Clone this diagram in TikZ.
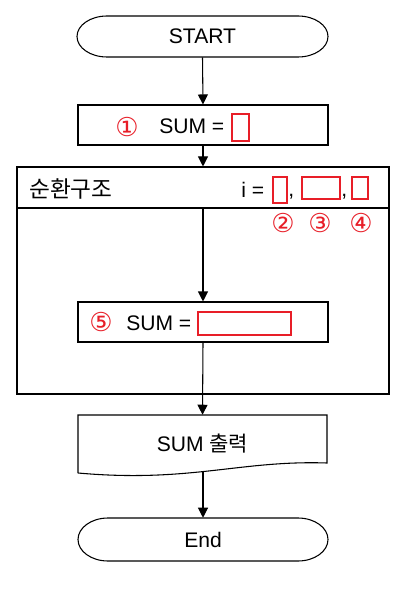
\documentclass[tikz,border=0pt]{standalone}
\usepackage{fontspec}
\setmainfont{Liberation Sans}
\newfontfamily\krfont{Noto Sans CJK KR}
\newfontfamily\symfont{DejaVu Sans}
\usetikzlibrary{arrows.meta}
\definecolor{qred}{RGB}{232,30,40}
\tikzset{
  every node/.style={font=\fontsize{15.8}{18}\selectfont},
  flow/.style={draw=black, line width=0.8pt},
  arr/.style={draw=black, line width=0.8pt, -{Triangle[width=7.5pt,length=7.5pt]}},
  procbox/.style={draw=black, line width=0.8pt, inner sep=0pt, minimum width=187.5pt, minimum height=30pt},
  ghost/.style={inner sep=0pt},
  blank/.style={draw=qred, line width=2pt, inner sep=0pt},
  circnum/.style={text=qred, font=\symfont\fontsize{19.5}{20}\selectfont, inner sep=0pt},
  kr/.style={font=\krfont\fontsize{17}{18}\selectfont, inner sep=0pt}
}
\begin{document}
\begin{tikzpicture}[x=0.75pt, y=-0.75pt]
\useasboundingbox[fill=white] (0,0) rectangle (415,595);

% START terminal
\node[ghost, minimum width=188.25pt, minimum height=30.75pt] (start) at (202.5,36.5) {START};
\draw[flow] (107,16) -- (298,16) arc[start angle=-90, end angle=90, x radius=30, y radius=20.5]
  -- (107,57) arc[start angle=90, end angle=270, x radius=30, y radius=20.5] -- cycle;

% box 1
\node[procbox] (b1) at (203,125) {};
\node[circnum] (c1) at (127,127) {①};
\node[ghost, anchor=west] (t1) at (159,126) {SUM =};
\node[blank, minimum width=12.75pt, minimum height=20.25pt] (r1) at (240.5,127.5) {};

% loop box
\node[draw=black, line width=0.8pt, inner sep=0pt, minimum width=279pt, minimum height=170.25pt] (loop) at (203,280.5) {};
\coordinate (hl) at (17,208);
\coordinate (hr) at (389,208);
\draw[flow] (hl) -- (hr);
\coordinate (hm) at (203,208);
\node[kr, anchor=west] (lt) at (29,189) {순환구조};
\node[ghost, anchor=west] (ieq) at (241,190) {i =};
\node[blank, minimum width=10.5pt, minimum height=19.5pt] (r2) at (280,190) {};
\node[ghost, anchor=base west] (cm1) at (288,197) {,};
\node[blank, minimum width=28.5pt, minimum height=16.5pt] (r3) at (321,188) {};
\node[ghost, anchor=base west] (cm2) at (341,197) {,};
\node[blank, minimum width=12pt, minimum height=16.5pt] (r4) at (360,188) {};
\node[circnum] (c2) at (283,223) {②};
\node[circnum] (c3) at (320,223) {③};
\node[circnum] (c4) at (361,223) {④};

% box 5
\node[procbox] (b5) at (203,322) {};
\node[circnum] (c5) at (101,322) {⑤};
\node[ghost, anchor=west] (t5) at (126,323) {SUM =};
\node[blank, minimum width=69.75pt, minimum height=17.25pt] (r5) at (244.5,323.5) {};

% output (document)
\node[ghost, minimum width=186.75pt, minimum height=37.5pt] (out) at (202.5,440) {};
\draw[flow] (78,473) -- (78,415) -- (327,415) -- (327,463)
  .. controls (240,460) and (190,483) .. (78,473);
\node[ghost] (outt) at (202.5,444) {SUM {\krfont 출력}};
\coordinate (outb) at (203,471);

% End terminal
\node[ghost, minimum width=187.5pt, minimum height=32.25pt] (end) at (203,539.5) {End};
\draw[flow] (108,518) -- (298,518) arc[start angle=-90, end angle=90, x radius=30, y radius=21.5]
  -- (108,561) arc[start angle=90, end angle=270, x radius=30, y radius=21.5] -- cycle;

% connectors
\draw[arr] (start.south) -- (b1.north);
\draw[arr] (b1.south) -- (loop.north);
\draw[arr] (hm) -- (b5.north);
\draw[arr] (b5.south) -- (out.north);
\draw[arr] (outb) -- (end.north);
\end{tikzpicture}
\end{document}
